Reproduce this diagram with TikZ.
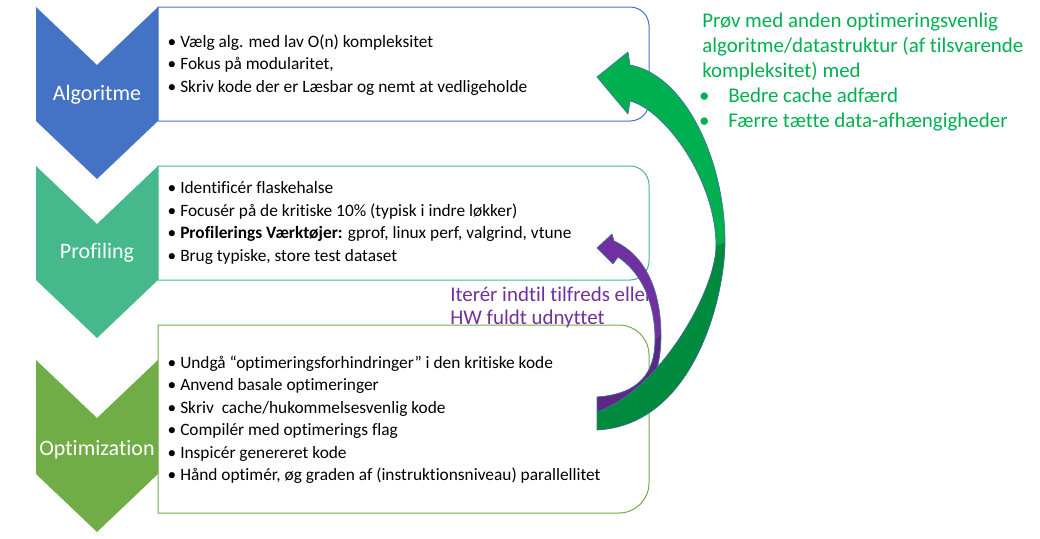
\documentclass[tikz,border=0pt]{standalone}
\usepackage{fontspec}
\setmainfont{Carlito}[Ligatures=NoCommon]
\definecolor{algblue}{HTML}{4472C4}
\definecolor{proteal}{HTML}{45B98B}
\definecolor{optgreen}{HTML}{70AD47}
\definecolor{arrgreen}{HTML}{00B050}
\definecolor{arrgreendk}{HTML}{008A3E}
\definecolor{arrpurple}{HTML}{7030A0}
\definecolor{arrpurpledk}{HTML}{5B2885}
\definecolor{edgeblue}{HTML}{41719C}
\begin{document}
\begin{tikzpicture}[x=0.75pt,y=-0.75pt,
  stagebox/.style={draw=#1, line width=0.75pt},
  stagelabel/.style={text=white, inner sep=0pt, font=\fontsize{16.5}{19}\selectfont},
  itemline/.style={anchor=base west, inner sep=0pt, font=\fontsize{13}{15}\selectfont},
  notegreen/.style={anchor=base west, inner sep=0pt, text=arrgreen, font=\fontsize{15.7}{18}\selectfont},
  notepurple/.style={anchor=base west, inner sep=0pt, text=arrpurple, font=\fontsize{15.7}{18}\selectfont},
  arrowedge/.style={draw=edgeblue, line width=0.5pt, line join=round}
]
\useasboundingbox (0,0) rectangle (1040,539);

% ---- stage chevrons ----
\fill[algblue] (36,7) -- (97,65) -- (158,7) -- (158,121) -- (97,179) -- (36,121) -- cycle;
\fill[proteal] (36,166) -- (97,224) -- (158,166) -- (158,280) -- (97,338) -- (36,280) -- cycle;
\fill[optgreen] (36,360) -- (97,418) -- (158,360) -- (158,474) -- (97,532) -- (36,474) -- cycle;

\node[stagelabel] (lab-alg) at (97,95) {Algoritme};
\node[stagelabel] (lab-prof) at (97,253) {Profiling};
\node[stagelabel] (lab-opt) at (97,450) {Optimization};

% ---- content boxes (right corners rounded) ----
\draw[stagebox=algblue] (158,7) -- (630,7) arc[start angle=-90,end angle=0,radius=19]
  -- (649,102) arc[start angle=0,end angle=90,radius=19] -- (158,121) -- cycle;
\draw[stagebox=proteal] (158,166) -- (630,166) arc[start angle=-90,end angle=0,radius=19]
  -- (649,261) arc[start angle=0,end angle=90,radius=19] -- (158,280) -- cycle;
\draw[stagebox=optgreen] (158,325) -- (619,325) arc[start angle=-90,end angle=0,radius=30]
  -- (649,483) arc[start angle=0,end angle=90,radius=30] -- (158,513) -- cycle;

% ---- bullet items ----
\foreach \t [count=\i from 0] in {
  {Vælg alg. med lav O(n) kompleksitet},
  {Fokus på modularitet,},
  {Skriv kode der er Læsbar og nemt at vedligeholde}}
  \node[itemline] (alg-\i) at (180,47.5+22.4*\i) {\llap{•\hspace{3pt}}\t};

\foreach \t [count=\i from 0] in {
  {Identificér flaskehalse},
  {Focusér på de kritiske 10\% (typisk i indre løkker)},
  {\textbf{Profilerings Værktøjer:} gprof, linux perf, valgrind, vtune},
  {Brug typiske, store test dataset}}
  \node[itemline] (prof-\i) at (180,193.5+22.6*\i) {\llap{•\hspace{3pt}}\t};

\foreach \t [count=\i from 0] in {
  {Undgå “optimeringsforhindringer” i den kritiske kode},
  {Anvend basale optimeringer},
  {Skriv~ cache/hukommelsesvenlig kode},
  {Compilér med optimerings flag},
  {Inspicér genereret kode},
  {Hånd optimér, øg graden af (instruktionsniveau) parallellitet}}
  \node[itemline] (opt-\i) at (180,368.5+22.4*\i) {\llap{•\hspace{3pt}}\t};

% ---- side notes ----
\node[notegreen] (gn-1) at (702,27) {Prøv med anden optimeringsvenlig};
\node[notegreen] (gn-2) at (702,52) {algoritme/datastruktur (af tilsvarende};
\node[notegreen] (gn-3) at (702,77) {kompleksitet) med};
\node[notegreen] (gn-4) at (728,102) {\llap{•\hspace{14pt}}Bedre cache adfærd};
\node[notegreen] (gn-5) at (728,127) {\llap{•\hspace{14pt}}Færre tætte data-afhængigheder};

\node[notepurple] (pn-1) at (450,301) {Iterér indtil tilfreds eller};
\node[notepurple] (pn-2) at (450,324) {HW fuldt udnyttet};

% ---- small loop arrow: back to profiling ----
\fill[arrpurple] (597,248) -- (612,234) -- (614,241)
  .. controls (645,255) and (661,290) .. (661,335)
  .. controls (661,385) and (640,412) .. (597,412)
  -- (597,397)
  .. controls (640,394) and (655,372) .. (655,340)
  .. controls (655,300) and (640,272) .. (618,257)
  -- (613,264) -- cycle;
\fill[arrpurpledk] (661,335)
  .. controls (661,385) and (640,412) .. (597,412)
  -- (597,397)
  .. controls (640,394) and (655,372) .. (655,340) -- cycle;
\draw[arrowedge] (597,248) -- (612,234) -- (614,241)
  .. controls (645,255) and (661,290) .. (661,335)
  .. controls (661,385) and (640,412) .. (597,412)
  -- (597,397)
  .. controls (640,394) and (655,372) .. (655,340)
  .. controls (655,300) and (640,272) .. (618,257)
  -- (613,264) -- cycle;

% ---- large loop arrow: back to the algorithm stage ----
\fill[arrgreen] (597,77) -- (628,52) -- (630,65)
  .. controls (685,75) and (725,160) .. (725,242)
  .. controls (725,295) and (695,425) .. (597,430)
  -- (597,412)
  .. controls (660,390) and (716,290) .. (716,246)
  .. controls (716,180) and (665,110) .. (630,101)
  -- (628,114) -- cycle;
\fill[arrgreendk] (725,242)
  .. controls (725,295) and (695,425) .. (597,430)
  -- (597,412)
  .. controls (660,390) and (716,290) .. (716,246) -- cycle;
\draw[arrowedge] (597,77) -- (628,52) -- (630,65)
  .. controls (685,75) and (725,160) .. (725,242)
  .. controls (725,295) and (695,425) .. (597,430)
  -- (597,412)
  .. controls (660,390) and (716,290) .. (716,246)
  .. controls (716,180) and (665,110) .. (630,101)
  -- (628,114) -- cycle;
\end{tikzpicture}
\end{document}
